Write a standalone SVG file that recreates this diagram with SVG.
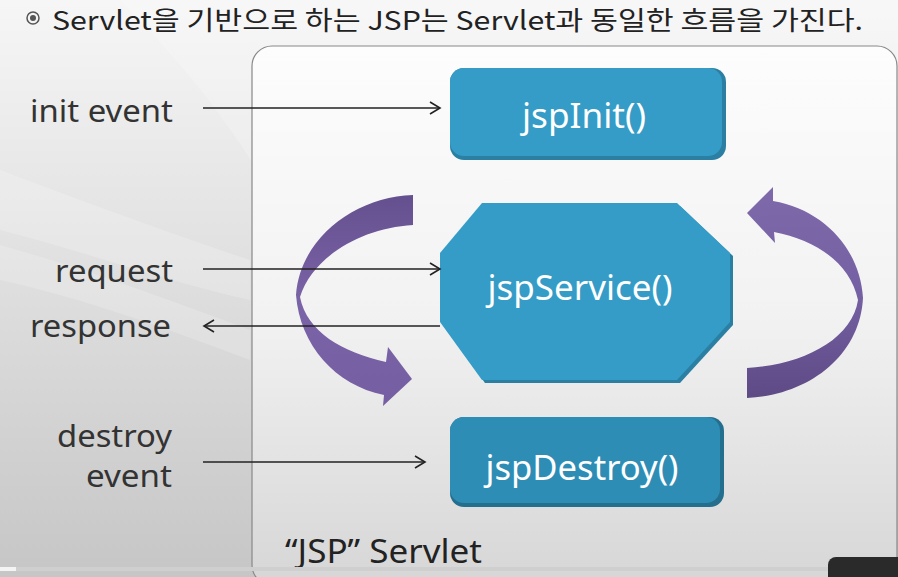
<svg xmlns="http://www.w3.org/2000/svg" width="898" height="577" viewBox="0 0 898 577">
<style>
.lbl{font-family:"Noto Sans","Open Sans","Liberation Sans",sans-serif;font-size:31px;fill:#333;}
.btxt{font-family:"Noto Sans","Open Sans","Liberation Sans",sans-serif;font-size:34px;fill:#fff;}
.conn{stroke:#222;stroke-width:1.5;fill:none;}
.title{font-family:"Noto Sans CJK KR","Noto Sans","Liberation Sans",sans-serif;font-size:26px;fill:#222;}
</style>
<defs>
<linearGradient id="bg" x1="0" y1="0" x2="0" y2="1">
<stop offset="0" stop-color="#f6f6f6"/>
<stop offset="1" stop-color="#c6c6c6"/>
</linearGradient>
<linearGradient id="cont" x1="0" y1="0" x2="0" y2="1">
<stop offset="0" stop-color="#fdfdfd"/>
<stop offset="0.5" stop-color="#f2f2f2"/>
<stop offset="1" stop-color="#d6d6d6"/>
</linearGradient>
<linearGradient id="purL" x1="0" y1="0" x2="0" y2="1">
<stop offset="0" stop-color="#65508f"/>
<stop offset="0.5" stop-color="#7a63a6"/>
<stop offset="1" stop-color="#755fa2"/>
</linearGradient>
<linearGradient id="purR" x1="0" y1="0" x2="0" y2="1">
<stop offset="0" stop-color="#7e69aa"/>
<stop offset="0.5" stop-color="#7560a3"/>
<stop offset="1" stop-color="#5e4a85"/>
</linearGradient>
<marker id="ah" markerUnits="userSpaceOnUse" markerWidth="14" markerHeight="14" refX="11" refY="7" orient="auto">
<path d="M1,1 L11,7 L1,13" fill="none" stroke="#222" stroke-width="1.6"/>
</marker>
</defs>
<rect x="0" y="0" width="898" height="577" fill="url(#bg)"/>
<path d="M120,0 C200,80 260,160 330,300 L898,300 L898,0 Z" fill="#ffffff" opacity="0.2"/>
<path d="M0,170 C80,200 160,230 250,260 L250,300 C160,280 80,250 0,230 Z" fill="#ffffff" opacity="0.2"/>
<path d="M0,245 C90,270 170,300 250,330 L250,360 C170,330 90,300 0,280 Z" fill="#ffffff" opacity="0.18"/>
<g id="title">
<circle cx="33" cy="18" r="6" fill="none" stroke="#555" stroke-width="1.5"/>
<circle cx="33" cy="18" r="3" fill="#555"/>
<text class="title" x="52" y="30" textLength="811" lengthAdjust="spacingAndGlyphs">Servlet을 기반으로 하는 JSP는 Servlet과 동일한 흐름을 가진다.</text>
</g>
<g id="container">
<rect x="252" y="46" width="645" height="539" rx="20" fill="url(#cont)" stroke="#888" stroke-width="1.2"/>
<text x="285" y="563" font-family="Noto Sans,Open Sans,Liberation Sans,sans-serif" font-size="32" fill="#222" textLength="197" lengthAdjust="spacingAndGlyphs">“JSP” Servlet</text>
</g>
<g id="cycle-left">
<path d="M413,195 C355,197 300,238 296,295 C300,345 335,385 384,395 L383,406 L412,379 L388,347 L386,362 C342,352 307,332 300,297 C312,258 360,228 413,225 Z" fill="url(#purL)"/>
</g>
<g id="cycle-right">
<path d="M747,213 L773,187 L773,201 C825,210 860,250 863,298 C860,355 810,395 747,398 L747,368 C802,365 852,340 858,300 C850,262 815,240 774,232 L775,243 Z" fill="url(#purR)"/>
</g>
<g id="labels">
<text class="lbl" x="173" y="122" text-anchor="end" textLength="143" lengthAdjust="spacingAndGlyphs">init event</text>
<text class="lbl" x="173" y="282" text-anchor="end" textLength="118" lengthAdjust="spacingAndGlyphs">request</text>
<text class="lbl" x="171" y="337" text-anchor="end" textLength="141" lengthAdjust="spacingAndGlyphs">response</text>
<text class="lbl" x="172" y="447" text-anchor="end" textLength="115" lengthAdjust="spacingAndGlyphs">destroy</text>
<text class="lbl" x="172" y="487" text-anchor="end" textLength="86" lengthAdjust="spacingAndGlyphs">event</text>
</g>
<g id="jspInit">
<rect x="450" y="68" width="276" height="92" rx="14" fill="#2a7fa3"/>
<rect x="450" y="68" width="272" height="88" rx="14" fill="#349cc6"/>
<text class="btxt" x="584" y="128" text-anchor="middle" textLength="124" lengthAdjust="spacingAndGlyphs">jspInit()</text>
</g>
<g id="jspService">
<polygon points="485,206 680,206 733,256 733,325 680,383 485,383 443,325 443,256" fill="#2a7fa3"/>
<polygon points="482,203 677,203 730,253 730,322 677,380 482,380 440,322 440,253" fill="#349cc6"/>
<text class="btxt" x="580" y="300" text-anchor="middle" textLength="185" lengthAdjust="spacingAndGlyphs">jspService()</text>
</g>
<g id="jspDestroy">
<rect x="450" y="417" width="274" height="90" rx="14" fill="#246e8e"/>
<rect x="450" y="417" width="270" height="86" rx="14" fill="#2e8db5"/>
<text class="btxt" x="582" y="480" text-anchor="middle" textLength="193" lengthAdjust="spacingAndGlyphs">jspDestroy()</text>
</g>
<g id="connectors">
<line class="conn" x1="203" y1="108" x2="440" y2="108" marker-end="url(#ah)"/>
<line class="conn" x1="203" y1="269" x2="440" y2="269" marker-end="url(#ah)"/>
<line class="conn" x1="440" y1="326" x2="204" y2="326" marker-end="url(#ah)"/>
<line class="conn" x1="203" y1="462" x2="425" y2="462" marker-end="url(#ah)"/>
</g>
<g id="player-bar">
<rect x="0" y="567" width="898" height="4" fill="#cfcfcf"/>
<rect x="0" y="567" width="16" height="4" fill="#f4f4f4"/>
<rect x="828" y="557" width="90" height="40" rx="8" fill="#2a2a2a"/>
</g>
</svg>
